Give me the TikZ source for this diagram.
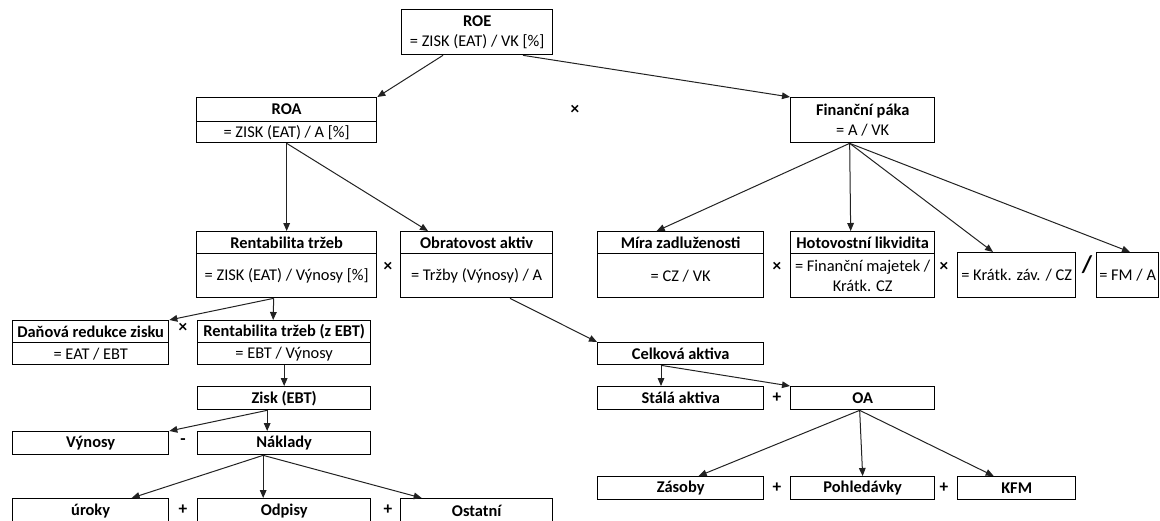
\documentclass[tikz,border=0pt]{standalone}
\usepackage{fontspec}
\setmainfont{Carlito}
\usetikzlibrary{arrows.meta,calc}
\definecolor{TreeInk}{HTML}{000000}
\definecolor{TreeLine}{HTML}{222222}
\tikzset{
  every node/.style={font=\fontsize{12.3pt}{15pt}\selectfont, text=TreeInk},
  cell/.style={draw=TreeInk, line width=1pt, inner sep=0pt, anchor=north west, align=center},
  title/.style={cell, font=\fontsize{12.3pt}{15pt}\selectfont\bfseries},
  wd/.style={minimum width=0.75pt*#1},
  ht/.style={minimum height=0.75pt*#1},
  op/.style={font=\fontsize{13pt}{13pt}\selectfont\bfseries},
  link/.style={-{Triangle[length=6pt,width=5pt]}, draw=TreeLine, line width=0.75pt},
}

\begin{document}
\begin{tikzpicture}[x=0.75pt, y=-0.75pt]
  \useasboundingbox (0,0) rectangle (1160,521);
  % Top level
  \node[cell, wd=151, ht=45] (roe) at (401,9) {\textbf{ROE}\\= ZISK (EAT) / VK [\%]};
  \node[title, wd=180, ht=24] (roa) at (196,97) {ROA};
  \node[cell, wd=180, ht=21] (roab) at (196,121) {= ZISK (EAT) / A [\%]};
  \node[cell, wd=144, ht=45] (fin) at (790,97) {\textbf{Finanční páka}\\= A / VK};
  \node[op] (x1) at (575,110) {×};
  % Second level
  \node[title, wd=180, ht=22] (rt) at (196,231) {Rentabilita tržeb};
  \node[cell, wd=180, ht=44] (rtb) at (196,253) {= ZISK (EAT) / Výnosy [\%]};
  \node[title, wd=152, ht=22] (obr) at (400,231) {Obratovost aktiv};
  \node[cell, wd=152, ht=44] (obrb) at (400,253) {= Tržby (Výnosy) / A};
  \node[title, wd=166, ht=22] (mz) at (597,231) {Míra zadluženosti};
  \node[cell, wd=166, ht=44] (mzb) at (597,253) {= CZ / VK};
  \node[title, wd=144, ht=22] (hl) at (790,231) {Hotovostní likvidita};
  \node[cell, wd=144, ht=44] (hlb) at (790,253) {= Finanční majetek /\\Krátk. CZ};
  \node[cell, wd=118, ht=45] (kz) at (957,252) {= Krátk. záv. / CZ};
  \node[cell, wd=62, ht=45] (fm) at (1096,252) {= FM / A};
  \foreach \x/\n in {388/x2, 777/x3, 944/x4} {
    \node[op] (\n) at (\x,267) {×};
  }
  \node[op, font=\fontsize{18pt}{18pt}\selectfont\bfseries] (d1) at (1087,265) {/};
  % Profit branch
  \node[title, wd=156, ht=22] (dr) at (12,320) {Daňová redukce zisku};
  \node[cell, wd=156, ht=22] (drb) at (12,342) {= EAT / EBT};
  \node[title, wd=173, ht=22] (rte) at (197,320) {Rentabilita tržeb (z EBT)};
  \node[cell, wd=173, ht=22] (rteb) at (197,342) {= EBT / Výnosy};
  \node[op] (x5) at (183,328) {×};
  \node[title, wd=173, ht=23] (zisk) at (197,386) {Zisk (EBT)};
  \node[title, wd=156, ht=23] (vyn) at (12,431) {Výnosy};
  \node[title, wd=173, ht=23] (nak) at (197,431) {Náklady};
  \node[op] (m1) at (183,442) {-};
  \node[title, wd=156, ht=25] (uro) at (12,498) {úroky};
  \node[title, wd=173, ht=25] (odp) at (197,498) {Odpisy};
  \node[title, wd=152, ht=25] (ost) at (400,498) {Ostatní};
  \node[op] (p4) at (183,510) {+};
  \node[op] (p5) at (388,510) {+};
  % Assets branch
  \node[title, wd=166, ht=22] (ca) at (597,342) {Celková aktiva};
  \node[title, wd=166, ht=23] (sa) at (597,386) {Stálá aktiva};
  \node[title, wd=144, ht=23] (oa) at (790,386) {OA};
  \node[op] (p1) at (777,398) {+};
  \node[title, wd=166, ht=23] (zas) at (597,476) {Zásoby};
  \node[title, wd=144, ht=23] (poh) at (790,476) {Pohledávky};
  \node[title, wd=118, ht=23] (kfm) at (957,476) {KFM};
  \node[op] (p2) at (777,488) {+};
  \node[op] (p3) at (944,488) {+};
  % Connectors
  \draw[link] ($(roe.south west)+(42,0)$) -- (roa.north east);
  \draw[link] ($(roe.south west)+(122,0)$) -- (fin.north west);
  \draw[link] (roab.south) -- (rt.north);
  \draw[link] (roab.south) -- ($(obr.north west)+(28,0)$);
  \draw[link] ($(fin.south)+(-13,0)$) -- ($(mz.north)+(-24,0)$);
  \draw[link] ($(fin.south)+(-13,0)$) -- ($(hl.north)+(-12,0)$);
  \draw[link] ($(fin.south)+(-13,0)$) -- ($(kz.north west)+(36,0)$);
  \draw[link] ($(fin.south)+(-13,0)$) -- ($(fm.north west)+(34,0)$);
  \draw[link] ($(rtb.south)+(-13,0)$) -- ($(rte.north)+(-11,0)$);
  \draw[link] ($(rtb.south)+(-13,0)$) -- (dr.north east);
  \draw[link] ($(obrb.south west)+(110,0)$) -- (ca.north west);
  \draw[link] (rteb.south) -- (zisk.north);
  \draw[link] ($(zisk.south)+(-17,0)$) -- ($(nak.north)+(-17,0)$);
  \draw[link] ($(zisk.south)+(-17,0)$) -- (vyn.north east);
  \foreach \t/\dx in {uro/41, odp/-21, ost/-55} {
    \draw[link] ($(nak.south)+(-21,0)$) -- ($(\t.north)+(\dx,0)$);
  }
  \draw[link] ($(ca.south west)+(64,0)$) -- ($(sa.north west)+(64,0)$);
  \draw[link] ($(ca.south west)+(64,0)$) -- (oa.north west);
  \foreach \t/\dx in {zas/18, poh/0, kfm/-23} {
    \draw[link] ($(oa.south)+(-3,0)$) -- ($(\t.north)+(\dx,0)$);
  }
\end{tikzpicture}
\end{document}
